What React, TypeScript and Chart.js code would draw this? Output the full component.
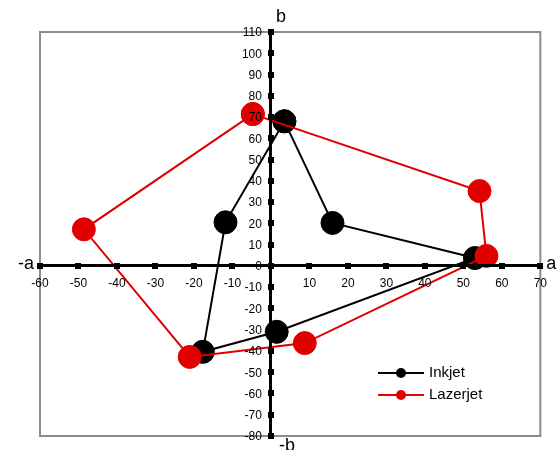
import React, { useEffect, useRef } from "react";
import { Chart, registerables } from "chart.js";

Chart.register(...registerables);

const seriesNames = ["Inkjet", "Lazerjet"];
const seriesColors = ["#000000", "#e00000"];
const inkjetA = [3.5, 16, 53, 1.5, -17.7, -11.8];
const inkjetB = [68, 20.2, 3.7, -31, -40.4, 20.5];
const lazerjetA = [-4.7, 54.2, 56, 8.8, -21.1, -48.6];
const lazerjetB = [71.4, 35.2, 4.7, -36.3, -42.8, 17.2];
const xMin = -60;
const xMax = 70;
const yMin = -80;
const yMax = 110;
const tickStep = 10;
const axisNames = { negX: "-a", posX: "a", posY: "b", negY: "-b" };

const FONT = "'Liberation Sans', Arial, sans-serif";

function closedPoints(xs: number[], ys: number[]) {
  const pts = xs.map((x, i) => ({ x, y: ys[i] }));
  pts.push({ ...pts[0] });
  return pts;
}

const decorPlugin = {
  id: "decor",
  beforeDraw(chart: any) {
    const { ctx, chartArea } = chart;
    ctx.save();
    ctx.strokeStyle = "#8c8c8c";
    ctx.lineWidth = 2;
    ctx.strokeRect(chartArea.left, chartArea.top, chartArea.right - chartArea.left, chartArea.bottom - chartArea.top);
    ctx.restore();
  },
  afterDraw(chart: any) {
    const { ctx, chartArea, scales } = chart;
    const xs = scales.x;
    const ys = scales.y;
    const x0 = xs.getPixelForValue(0);
    const y0 = ys.getPixelForValue(0);
    ctx.save();
    ctx.fillStyle = "#000";
    // tick squares
    xs.ticks.forEach((t: any) => {
      const px = xs.getPixelForValue(t.value);
      ctx.fillRect(Math.round(px) - 3, Math.round(y0) - 3, 6, 6);
    });
    ys.ticks.forEach((t: any) => {
      const py = ys.getPixelForValue(t.value);
      ctx.fillRect(Math.round(x0) - 3, Math.round(py) - 3, 6, 6);
    });
    // y tick labels (from the scale's own ticks)
    ctx.font = `12px ${FONT}`;
    ctx.textAlign = "right";
    ctx.textBaseline = "middle";
    ys.ticks.forEach((t: any) => {
      const py = ys.getPixelForValue(t.value);
      ctx.fillText(String(t.label), x0 - 9, py + 1);
    });
    // axis names
    ctx.font = `18px ${FONT}`;
    ctx.textBaseline = "middle";
    ctx.textAlign = "right";
    ctx.fillText(axisNames.negX, chartArea.left - 6, y0 - 2);
    ctx.textAlign = "left";
    ctx.fillText(axisNames.posX, chartArea.right + 6, y0 - 2);
    ctx.textAlign = "left";
    ctx.textBaseline = "bottom";
    ctx.fillText(axisNames.posY, x0 + 5, chartArea.top - 6);
    ctx.textBaseline = "top";
    ctx.fillText(axisNames.negY, x0 + 8, chartArea.bottom + 1);
    // legend
    const lx = 378;
    const ly = 373;
    seriesNames.forEach((name, i) => {
      const y = ly + i * 22;
      ctx.strokeStyle = seriesColors[i];
      ctx.lineWidth = 2;
      ctx.beginPath();
      ctx.moveTo(lx, y);
      ctx.lineTo(lx + 46, y);
      ctx.stroke();
      ctx.fillStyle = seriesColors[i];
      ctx.beginPath();
      ctx.arc(lx + 23, y, 5, 0, Math.PI * 2);
      ctx.fill();
      ctx.fillStyle = "#000";
      ctx.font = `15px ${FONT}`;
      ctx.textAlign = "left";
      ctx.textBaseline = "middle";
      ctx.fillText(name, lx + 51, y);
    });
    ctx.restore();
  },
};

export default function App() {
  const ref = useRef<HTMLCanvasElement>(null);
  useEffect(() => {
    if (!ref.current) return;
    const chart = new Chart(ref.current, {
      type: "scatter",
      data: {
        datasets: [
          {
            label: seriesNames[0],
            data: closedPoints(inkjetA, inkjetB),
            showLine: true,
            borderColor: seriesColors[0],
            backgroundColor: seriesColors[0],
            borderWidth: 2,
            pointRadius: 11.5,
            pointBorderWidth: 1,
            pointHoverRadius: 11.5,
            order: 2,
          },
          {
            label: seriesNames[1],
            data: closedPoints(lazerjetA, lazerjetB),
            showLine: true,
            borderColor: seriesColors[1],
            backgroundColor: seriesColors[1],
            borderWidth: 2,
            pointRadius: 11.5,
            pointBorderWidth: 1,
            pointHoverRadius: 11.5,
            order: 1,
          },
        ],
      },
      plugins: [decorPlugin],
      options: {
        responsive: false,
        animation: false,
        events: [],
        layout: { padding: { left: 40, right: 17, top: 32, bottom: 14 } },
        plugins: { legend: { display: false }, tooltip: { enabled: false } },
        scales: {
          x: {
            type: "linear",
            min: xMin,
            max: xMax,
            position: { y: 0 },
            afterFit: (s: any) => {
              s.height = 0;
            },
            grid: { display: false, drawTicks: false },
            border: { display: true, color: "#000", width: 3, z: 1 },
            ticks: {
              stepSize: tickStep,
              color: "#000",
              font: { family: FONT, size: 12 },
              padding: 11,
              z: 1,
              maxRotation: 0,
              autoSkip: false,
              callback: (v: any) => (Number(v) === 0 ? "" : String(v)),
            },
          },
          y: {
            type: "linear",
            min: yMin,
            max: yMax,
            position: { x: 0 },
            afterFit: (s: any) => {
              s.width = 0;
            },
            grid: { display: false, drawTicks: false },
            border: { display: true, color: "#000", width: 3, z: 1 },
            ticks: {
              stepSize: tickStep,
              display: false,
              autoSkip: false,
            },
          },
        },
      },
    } as any);
    return () => chart.destroy();
  }, []);
  return (
    <div style={{ position: "absolute", left: 0, top: 0, width: 558, height: 450, background: "#fff" }}>
      <canvas ref={ref} width={558} height={450} style={{ display: "block" }} />
    </div>
  );
}
